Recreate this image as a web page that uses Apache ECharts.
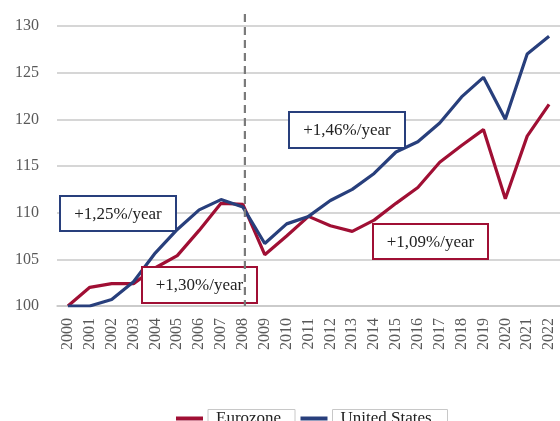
<!DOCTYPE html>
<html>
<head>
<meta charset="utf-8">
<script src="https://cdn.jsdelivr.net/npm/echarts@6/dist/echarts.min.js"></script>
<style>
  html, body { margin: 0; padding: 0; background: #fff; }
  #chart { width: 560px; height: 421px; }
</style>
</head>
<body>
<div id="chart"></div>
<script>
const years = ['2000', '2001', '2002', '2003', '2004', '2005', '2006', '2007', '2008', '2009', '2010',
  '2011', '2012', '2013', '2014', '2015', '2016', '2017', '2018', '2019', '2020', '2021', '2022']
const eurozone = [100, 102.0, 102.4, 102.4, 104.1, 105.4, 108.1, 111.0, 110.9, 105.5, 107.5,
  109.6, 108.6, 108.0, 109.2, 111.0, 112.7, 115.4, 117.2, 118.9, 111.5, 118.2, 121.6]
const unitedStates = [100, 100, 100.7, 102.6, 105.7, 108.2, 110.3, 111.4, 110.6, 106.7, 108.8,
  109.6, 111.3, 112.5, 114.2, 116.5, 117.6, 119.6, 122.4, 124.5, 120.0, 127.0, 128.9]
const yTicks = [100, 105, 110, 115, 120, 125, 130]
const crisisYear = '2008'

const RED = '#a00f34'
const BLUE = '#283f7c'
const SERIF = '"Liberation Serif", "DejaVu Serif", serif'

// annotation boxes: [text, color, left, top, width, height]
const notes = [
  ['+1,25%/year', BLUE, 60, 196, 116, 35],
  ['+1,30%/year', RED, 142, 267, 115, 36],
  ['+1,46%/year', BLUE, 289, 112, 116, 36],
  ['+1,09%/year', RED, 373, 224, 115, 35]
]

const myChart = echarts.init(document.getElementById('chart'))

function noteGraphic(n) {
  return {
    type: 'group',
    x: n[2],
    y: n[3],
    children: [
      {
        type: 'rect',
        z: 50,
        shape: { x: 0, y: 0, width: n[4], height: n[5] },
        style: { fill: '#ffffff', stroke: n[1], lineWidth: 2 }
      },
      {
        type: 'text',
        z: 51,
        x: n[4] / 2,
        y: n[5] / 2 + 1,
        style: {
          text: n[0],
          fill: '#222',
          font: '17px ' + SERIF,
          align: 'center',
          verticalAlign: 'middle'
        }
      }
    ]
  }
}

myChart.setOption({
  animation: false,
  grid: {
    left: 57,
    top: 26,
    width: 511,
    height: 280
  },
  legend: {
    top: 409,
    left: 176,
    padding: 0,
    itemWidth: 27,
    itemHeight: 4,
    itemGap: 5,
    textStyle: {
      fontFamily: SERIF,
      fontSize: 17,
      color: '#222',
      borderColor: '#c8c8c8',
      borderWidth: 1,
      height: 14,
      padding: [2, 8, 2, 8]
    },
    data: [
      { name: 'Eurozone', icon: 'rect', itemStyle: { color: RED }, textStyle: { width: 71 } },
      { name: 'United States', icon: 'rect', itemStyle: { color: BLUE }, textStyle: { width: 99 } }
    ]
  },
  xAxis: {
    type: 'category',
    data: years,
    boundaryGap: true,
    axisLine: { lineStyle: { color: '#c8c8c8', width: 1.5 } },
    axisTick: { show: false },
    axisLabel: {
      rotate: 90,
      interval: 0,
      margin: 12,
      color: '#595959',
      fontFamily: SERIF,
      fontSize: 16
    }
  },
  yAxis: {
    type: 'value',
    min: yTicks[0],
    max: yTicks[yTicks.length - 1],
    interval: yTicks[1] - yTicks[0],
    axisLine: { show: false },
    axisTick: { show: false },
    axisLabel: {
      margin: 18,
      color: '#595959',
      fontFamily: SERIF,
      fontSize: 16
    },
    splitLine: { lineStyle: { color: '#c8c8c8', width: 1.5 } }
  },
  series: [
    {
      name: 'Eurozone',
      type: 'line',
      data: eurozone,
      symbol: 'none',
      itemStyle: { color: RED },
      lineStyle: { width: 3.2, color: RED },
      z: 3
    },
    {
      name: 'United States',
      type: 'line',
      data: unitedStates,
      symbol: 'none',
      itemStyle: { color: BLUE },
      lineStyle: { width: 3.2, color: BLUE },
      z: 4
    }
  ]
})

// dashed 2008 separator, placed from the axes' own scales
const bottom = myChart.convertToPixel({ gridIndex: 0 }, [crisisYear, yTicks[0]])
myChart.setOption({
  graphic: notes.map(noteGraphic).concat([{
    type: 'line',
    z: 60,
    shape: { x1: bottom[0] + 2, y1: 14, x2: bottom[0] + 2, y2: bottom[1] },
    style: { stroke: '#7a7a7a', lineWidth: 2.2, lineDash: [8, 5] }
  }])
})
</script>
</body>
</html>
